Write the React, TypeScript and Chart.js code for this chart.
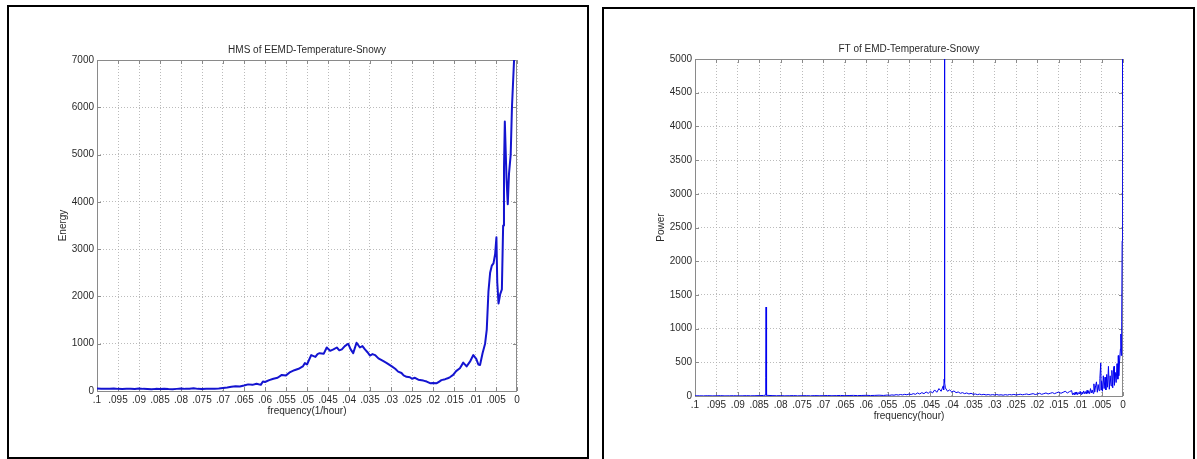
import React, { useEffect, useRef } from "react";
import { Chart, registerables } from "chart.js";

Chart.register(...registerables);

// ---------- data ----------
const xTickValues = [0.1, 0.095, 0.09, 0.085, 0.08, 0.075, 0.07, 0.065, 0.06, 0.055, 0.05, 0.045, 0.04, 0.035, 0.03, 0.025, 0.02, 0.015, 0.01, 0.005, 0];
const xTickLabels = [".1", ".095", ".09", ".085", ".08", ".075", ".07", ".065", ".06", ".055", ".05", ".045", ".04", ".035", ".03", ".025", ".02", ".015", ".01", ".005", "0"];
const energyTicks = [0, 1000, 2000, 3000, 4000, 5000, 6000, 7000];
const powerTicks = [0, 500, 1000, 1500, 2000, 2500, 3000, 3500, 4000, 4500, 5000];

const hmsFreq = [
  0.1, 0.099, 0.098, 0.097, 0.096, 0.095, 0.094, 0.093, 0.092, 0.091, 0.09, 0.089, 0.088, 0.087, 0.086, 0.085,
  0.084, 0.083, 0.082, 0.081, 0.08, 0.079, 0.078, 0.077, 0.076, 0.075, 0.074, 0.073, 0.072, 0.071, 0.07,
  0.069, 0.068, 0.067, 0.066, 0.065, 0.064, 0.063, 0.062, 0.061, 0.0605, 0.06, 0.059, 0.058, 0.057, 0.056,
  0.055, 0.054, 0.053, 0.052, 0.051, 0.0505, 0.05, 0.049, 0.048, 0.0475, 0.047, 0.046, 0.0453, 0.0445,
  0.0437, 0.0429, 0.0423, 0.0417, 0.041, 0.0402, 0.0396, 0.039, 0.0382, 0.0374, 0.0368, 0.0362, 0.0356,
  0.035, 0.0344, 0.0338, 0.033, 0.0318, 0.031, 0.0298, 0.029, 0.0283, 0.0275, 0.027, 0.0263, 0.0255, 0.025,
  0.0243, 0.0235, 0.0223, 0.0215, 0.0207, 0.02, 0.0191, 0.0185, 0.018, 0.0171, 0.0165, 0.016, 0.0152,
  0.0145, 0.0136, 0.0128, 0.012, 0.0112, 0.0104, 0.0097, 0.0092, 0.0088, 0.0082, 0.0076, 0.0072, 0.0068,
  0.0064, 0.006, 0.0056, 0.0052, 0.0049, 0.0047, 0.0044, 0.004, 0.0036, 0.0033, 0.0031, 0.0029, 0.0027,
  0.0025, 0.0022, 0.0019, 0.0015, 0.0012, 0.0008, 0.0005, 0
];
const hmsEnergy = [
  55, 50, 45, 50, 55, 45, 40, 45, 50, 40, 55, 45, 40, 35, 45, 40,
  50, 40, 35, 45, 55, 45, 50, 60, 45, 40, 50, 45, 50, 55, 65,
  75, 90, 100, 95, 115, 140, 130, 155, 130, 200, 190, 230, 260, 280, 340,
  330, 400, 440, 470, 520, 590, 560, 760, 720, 780, 800, 790, 920, 850,
  880, 920, 860, 880, 950, 1000, 880, 800, 1020, 920, 950, 880, 820,
  750, 780, 760, 690, 630, 590, 520, 470, 410, 380, 330, 300, 290, 260,
  280, 240, 220, 200, 165, 170, 165, 200, 230, 250, 270, 290, 340,
  420, 480, 600, 520, 620, 760, 680, 560, 550, 800, 1000, 1300, 2100,
  2500, 2650, 2700, 2900, 3250, 2300, 1850, 2050, 2150, 3500, 4700, 5700, 5100,
  4500, 3950, 4600, 5000, 6000, 6800, 7400, 8000
];

const ftFreq = [
  0.1, 0.099, 0.098, 0.097, 0.096, 0.095, 0.094, 0.093, 0.092, 0.091, 0.09, 0.089, 0.088, 0.087, 0.086, 0.085, 0.084,
  0.0836, 0.0835, 0.08345, 0.0834, 0.08335, 0.0833, 0.0832,
  0.082, 0.081, 0.08, 0.079, 0.078, 0.077, 0.076, 0.075, 0.074, 0.073, 0.072, 0.071, 0.07, 0.069, 0.068, 0.067,
  0.066, 0.065, 0.064, 0.063, 0.062, 0.061, 0.06, 0.059, 0.058, 0.057, 0.056, 0.055,
  0.0545, 0.054, 0.0535, 0.053, 0.0525, 0.052, 0.0515, 0.051, 0.0505, 0.05, 0.0495, 0.049, 0.0485, 0.048,
  0.0475, 0.047, 0.0465, 0.046, 0.0455, 0.045, 0.0445, 0.044, 0.0435, 0.043, 0.0425, 0.042,
  0.0419, 0.0418, 0.04175, 0.0417, 0.04165, 0.0416, 0.0415,
  0.041, 0.0405, 0.04, 0.0395, 0.039, 0.0385, 0.038, 0.0375, 0.037, 0.0365, 0.036, 0.0355, 0.035, 0.0345,
  0.034, 0.0335, 0.033, 0.0325, 0.032, 0.0315, 0.031, 0.0305, 0.03, 0.0295, 0.029, 0.0285, 0.028, 0.0275,
  0.027, 0.0265, 0.026, 0.0255, 0.025, 0.0245, 0.024, 0.0235, 0.023, 0.0225, 0.022, 0.0215, 0.021, 0.0205,
  0.02, 0.0195, 0.019, 0.0185, 0.018, 0.0175, 0.017, 0.0165, 0.016, 0.0155, 0.015, 0.0145, 0.014, 0.0135,
  0.013, 0.0125, 0.012,
  0.0118, 0.0116, 0.0114, 0.0112, 0.011, 0.0108, 0.0106, 0.0104, 0.0102, 0.01, 0.0098, 0.0096, 0.0094, 0.0092,
  0.009, 0.0088, 0.0086, 0.0084, 0.0082, 0.008, 0.0078, 0.0076, 0.0074, 0.0072, 0.007, 0.0068, 0.0066, 0.0064,
  0.0062, 0.006, 0.0058, 0.0056, 0.0054, 0.0052, 0.0051, 0.005, 0.0048, 0.0046, 0.0044, 0.0042, 0.004, 0.0038,
  0.0036, 0.0034, 0.0032, 0.003, 0.0028, 0.0026, 0.0024, 0.0022, 0.0021, 0.002, 0.0018, 0.0016, 0.0014, 0.0012,
  0.0011, 0.001, 0.0008, 0.0006, 0.0005, 0.0004, 0.0003, 0.0002, 0.0001, 0.00005, 0
];
const ftPower = [
  2, 3, 2, 4, 2, 3, 5, 2, 3, 4, 2, 3, 5, 3, 4, 6, 8,
  12, 30, 280, 1320, 1180, 25, 10,
  6, 4, 5, 3, 4, 6, 3, 4, 5, 3, 6, 4, 5, 7, 4, 6,
  8, 5, 7, 9, 6, 8, 10, 7, 9, 12, 8, 14,
  10, 16, 12, 20, 14, 22, 16, 25, 18, 30, 22, 35, 25, 45,
  30, 50, 35, 60, 40, 70, 45, 90, 55, 110, 70, 150,
  90, 250, 800, 5600, 1300, 200, 120,
  70, 90, 60, 75, 50, 60, 40, 50, 35, 45, 30, 40, 25, 30,
  20, 28, 18, 25, 15, 22, 14, 20, 16, 22, 14, 18, 12, 20,
  14, 22, 16, 24, 15, 20, 26, 18, 24, 30, 20, 28, 35, 22,
  30, 40, 25, 35, 45, 30, 40, 50, 35, 48, 60, 40, 55, 70,
  45, 65, 80,
  20, 45, 15, 55, 25, 60, 20, 50, 30, 70, 25, 60, 30, 75,
  35, 65, 30, 85, 40, 70, 35, 110, 45, 90, 40, 180, 60, 150,
  210, 55, 170, 80, 260, 490, 90, 220, 70, 300, 110, 280, 90, 320,
  130, 440, 100, 300, 150, 380, 120, 400, 440, 160, 350, 200, 480, 250,
  600, 300, 520, 700, 920, 600, 1100, 2300, 4400, 5600, 4400
];

// ---------- styling helpers ----------
const FONT = { family: "'Liberation Sans', Arial, Helvetica, sans-serif", size: 10, lineHeight: 1.2 };
const TEXT = "#2a2a2a";
const GRID = "rgba(175,175,175,0.85)";
const BOX = "#8a8a8a";

function labelFor(v: number) {
  let best = 0;
  let bd = Infinity;
  xTickValues.forEach((t, i) => {
    const d = Math.abs(t - v);
    if (d < bd) { bd = d; best = i; }
  });
  return xTickLabels[best];
}

const matlabBox = {
  id: "matlabBox",
  beforeDatasetsDraw(chart: any) {
    const { ctx, chartArea: a, scales } = chart;
    const tl = 4;
    ctx.save();
    ctx.strokeStyle = BOX;
    ctx.lineWidth = 1;
    ctx.beginPath();
    scales.x.ticks.forEach((t: any) => {
      const px = Math.round(scales.x.getPixelForValue(t.value)) + 0.5;
      ctx.moveTo(px, a.bottom);
      ctx.lineTo(px, a.bottom - tl);
      ctx.moveTo(px, a.top);
      ctx.lineTo(px, a.top + tl);
    });
    scales.y.ticks.forEach((t: any) => {
      const py = Math.round(scales.y.getPixelForValue(t.value)) + 0.5;
      ctx.moveTo(a.left, py);
      ctx.lineTo(a.left + tl, py);
      ctx.moveTo(a.right, py);
      ctx.lineTo(a.right - tl, py);
    });
    ctx.stroke();
    ctx.strokeRect(Math.round(a.left) + 0.5, Math.round(a.top) + 0.5, Math.round(a.width) - 1, Math.round(a.height));
    ctx.restore();
  },
};

type PanelCfg = {
  width: number;
  height: number;
  title: string;
  xTitle: string;
  yTitle: string;
  freq: number[];
  values: number[];
  yTicks: number[];
  yMax: number;
  lineWidth: number;
  color: string;
  padding: { left: number; right: number; top: number; bottom: number };
  yWidth: number;
  xHeight: number;
};

function Panel({ cfg }: { cfg: PanelCfg }) {
  const ref = useRef<HTMLCanvasElement | null>(null);
  useEffect(() => {
    if (!ref.current) return;
    const chart = new Chart(ref.current, {
      type: "line",
      data: {
        datasets: [
          {
            data: cfg.freq.map((f, i) => ({ x: f, y: cfg.values[i] })),
            borderColor: cfg.color,
            borderWidth: cfg.lineWidth,
            pointRadius: 0,
            tension: 0,
            fill: false,
            borderJoinStyle: "round",
          },
        ],
      },
      options: {
        animation: false,
        responsive: false,
        maintainAspectRatio: false,
        events: [],
        layout: { padding: cfg.padding },
        plugins: {
          legend: { display: false },
          tooltip: { enabled: false },
          title: {
            display: true,
            text: cfg.title,
            fullSize: false,
            color: TEXT,
            font: { ...FONT, weight: "normal" },
            padding: { top: 0, bottom: 4 },
          },
        },
        scales: {
          x: {
            type: "linear",
            reverse: true,
            min: 0,
            max: 0.1,
            afterBuildTicks: (s: any) => {
              s.ticks = xTickValues.map((v) => ({ value: v }));
            },
            afterFit: (s: any) => {
              s.height = cfg.xHeight;
            },
            ticks: {
              autoSkip: false,
              maxRotation: 0,
              minRotation: 0,
              padding: 3,
              color: TEXT,
              font: FONT,
              callback: (v: any) => labelFor(Number(v)),
            },
            grid: { color: GRID, lineWidth: 1, drawTicks: false },
            border: { display: false, dash: [1, 2] },
            title: { display: true, text: cfg.xTitle, color: TEXT, font: FONT, padding: 0 },
          },
          y: {
            type: "linear",
            min: 0,
            max: cfg.yMax,
            afterBuildTicks: (s: any) => {
              s.ticks = cfg.yTicks.map((v) => ({ value: v }));
            },
            afterFit: (s: any) => {
              s.width = cfg.yWidth;
            },
            ticks: {
              autoSkip: false,
              padding: 3,
              color: TEXT,
              font: FONT,
              callback: (v: any) => String(v),
            },
            grid: { color: GRID, lineWidth: 1, drawTicks: false },
            border: { display: false, dash: [1, 2] },
            title: { display: true, text: cfg.yTitle, color: TEXT, font: FONT, padding: 0 },
          },
        },
      },
      plugins: [matlabBox],
    } as any);
    return () => chart.destroy();
  }, [cfg]);
  return (
    <canvas
      ref={ref}
      width={cfg.width}
      height={cfg.height}
      style={{ width: cfg.width, height: cfg.height, display: "block" }}
    />
  );
}

const leftCfg: PanelCfg = {
  width: 578,
  height: 450,
  title: "HMS of EEMD-Temperature-Snowy",
  xTitle: "frequency(1/hour)",
  yTitle: "Energy",
  freq: hmsFreq,
  values: hmsEnergy,
  yTicks: energyTicks,
  yMax: 7000,
  lineWidth: 2,
  color: "#1414d0",
  padding: { left: 48, right: 70, top: 37, bottom: 40 },
  yWidth: 40,
  xHeight: 26,
};

const rightCfg: PanelCfg = {
  width: 588,
  height: 450,
  title: "FT of EMD-Temperature-Snowy",
  xTitle: "frequency(hour)",
  yTitle: "Power",
  freq: ftFreq,
  values: ftPower,
  yTicks: powerTicks,
  yMax: 5000,
  lineWidth: 1,
  color: "#0000f0",
  padding: { left: 51, right: 69, top: 34, bottom: 37 },
  yWidth: 40,
  xHeight: 26,
};

export default function App() {
  return (
    <div style={{ position: "absolute", left: 0, top: 0, width: 1197, height: 459, overflow: "hidden", background: "#fff" }}>
      <div
        style={{
          position: "absolute",
          left: 7,
          top: 5,
          width: 582,
          height: 454,
          boxSizing: "border-box",
          border: "2px solid #000",
        }}
      />
      <div
        style={{
          position: "absolute",
          left: 602,
          top: 7,
          width: 593,
          height: 460,
          boxSizing: "border-box",
          border: "2px solid #000",
        }}
      />
      <div style={{ position: "absolute", left: 9, top: 7 }}>
        <Panel cfg={leftCfg} />
      </div>
      <div style={{ position: "absolute", left: 604, top: 9 }}>
        <Panel cfg={rightCfg} />
      </div>
    </div>
  );
}
